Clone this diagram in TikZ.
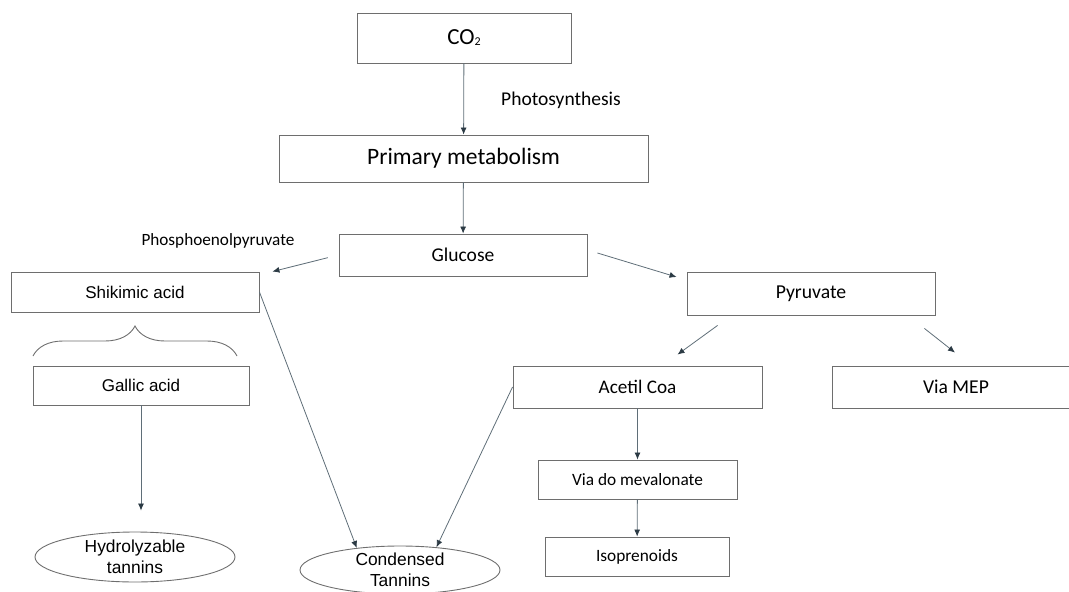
\documentclass[tikz,border=0pt]{standalone}
\usepackage{fontspec}
\setmainfont{Carlito}
\newfontfamily\arialfont{Liberation Sans}
\usepackage{tikz}
\usetikzlibrary{calc}
\usetikzlibrary{shapes.geometric}
\usetikzlibrary{arrows.meta}
\usetikzlibrary{decorations.pathreplacing}
\usepackage{xcolor}

\definecolor{boxline}{HTML}{6E6E6E}
\definecolor{arrline}{HTML}{5F6E78}
\definecolor{arrtip}{HTML}{2B3A44}

\tikzset{
    box/.style={draw=boxline, line width=0.9pt, rectangle, inner sep=0pt},
    oval/.style={draw=boxline, line width=0.9pt, ellipse, inner sep=0pt, align=center, font=\arialfont\fontsize{17.4}{21}\selectfont},
    arr/.style={draw=arrline, line width=0.8pt, -{Latex[length=7pt,width=6pt,color=arrtip]}},
}

\begin{document}
\begin{tikzpicture}[x=1pt, y=-1pt]
        \useasboundingbox (0,0) rectangle (1069,592);

        % top of the chain
        \node[box, minimum width=214pt, minimum height=50pt, font=\fontsize{23}{27}\selectfont] (co2) at (464,38) {CO\raisebox{-1pt}{\fontsize{12}{14}\selectfont 2}};
        \node[box, minimum width=369pt, minimum height=47pt, font=\fontsize{23.5}{27}\selectfont] (prim) at (463.5,158.5) {Primary metabolism};
        \node[box, minimum width=248pt, minimum height=42pt, font=\fontsize{19.5}{23}\selectfont] (glucose) at (463,255) {Glucose};

        \node[right, inner sep=0pt, font=\fontsize{19.5}{23}\selectfont] (photo) at (501,100) {Photosynthesis};
        \node[font=\fontsize{17.2}{20}\selectfont] (pep) at (218,241) {Phosphoenolpyruvate};

        % left branch
        \node[box, minimum width=248pt, minimum height=40pt, font=\arialfont\fontsize{17}{20}\selectfont] (shik) at (135,292) {Shikimic acid};
        \node[box, minimum width=216pt, minimum height=39pt, font=\arialfont\fontsize{17}{20}\selectfont] (gallic) at (141,385.5) {Gallic acid};
        \node[oval, minimum width=200pt, minimum height=50pt] (hydro) at (135,557) {Hydrolyzable\\tannins};
        \node[oval, minimum width=200pt, minimum height=48pt] (cond) at (400,570) {Condensed\\Tannins};

        \coordinate (bl) at (33,356);
        \coordinate (br) at (237,356);
        \draw[boxline, line width=0.9pt, decorate, decoration={brace, amplitude=30pt, aspect=0.5}] (bl) -- (br);

        % right branch
        \node[box, minimum width=248pt, minimum height=43pt, font=\fontsize{19.7}{23}\selectfont] (pyr) at (811,293.5) {Pyruvate};
        \node[box, minimum width=249pt, minimum height=42pt, font=\fontsize{19.2}{23}\selectfont] (acetil) at (637.5,387) {Acetil Coa};
        \node[box, minimum width=248pt, minimum height=42pt, font=\fontsize{19.6}{23}\selectfont] (mep) at (956,387) {Via MEP};
        \node[box, minimum width=199pt, minimum height=39pt, font=\fontsize{17.3}{20}\selectfont] (viado) at (637.5,479.5) {Via do mevalonate};
        \node[box, minimum width=184pt, minimum height=39pt, font=\fontsize{17.3}{20}\selectfont] (iso) at (637,556.5) {Isoprenoids};

        % arrows
        \draw[arr] (co2) -- (prim);
        \draw[arr] (prim) -- (glucose);
        \draw[arr, shorten <=11pt] (glucose.west) -- ($(shik.north east)+(13,0)$);
        \draw[arr] ($(glucose.east)+(10,-2)$) -- ($(pyr.west)+(-10,-16.5)$);
        \draw[arr] (shik.east) -- (cond.153);
        \draw[arr] (acetil.west) -- (cond.32);
        \draw[arr, shorten >=21pt] (gallic.south) -- (gallic.south |- hydro.north);
        \draw[arr] ($(pyr.south west)+(31,10)$) -- ($(acetil.north)+(40,-11)$);
        \draw[arr] ($(pyr.south east)+(-11,13)$) -- ($(mep.north)+(-1,-13)$);
        \draw[arr] (acetil) -- (viado);
        \draw[arr] (viado) -- (iso);
    \end{tikzpicture}
\end{document}
